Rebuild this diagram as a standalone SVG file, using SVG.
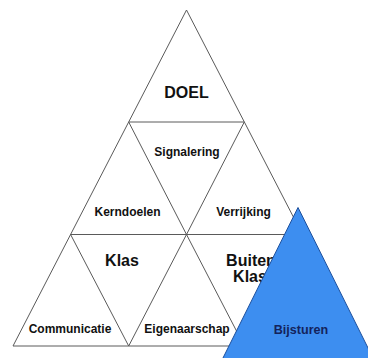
<svg xmlns="http://www.w3.org/2000/svg" width="368" height="358" viewBox="0 0 368 358">
  <style>
    .ln { stroke: #5a5a5a; stroke-width: 1; fill: none; }
    .t { font-family: "Liberation Sans", Arial, sans-serif; font-weight: bold; fill: #111; text-anchor: middle; }
    .s { font-size: 12px; }
    .l { font-size: 16px; }
  </style>
  <rect width="368" height="358" fill="#ffffff"/>
  <g id="connectors">
    <polygon class="ln" points="186.5,10 13,346 360,346"/>
    <line class="ln" x1="128.7" y1="122" x2="244.3" y2="122"/>
    <line class="ln" x1="70.6" y1="234.5" x2="302.4" y2="234.5"/>
    <line class="ln" x1="128.7" y1="122" x2="186.5" y2="234.5"/>
    <line class="ln" x1="244.3" y1="122" x2="186.5" y2="234.5"/>
    <line class="ln" x1="70.6" y1="234.5" x2="128.7" y2="346"/>
    <line class="ln" x1="186.5" y1="234.5" x2="128.7" y2="346"/>
    <line class="ln" x1="186.5" y1="234.5" x2="244.3" y2="346"/>
    <line class="ln" x1="302.4" y1="234.5" x2="244.3" y2="346"/>
  </g>
  <g id="doel"><text class="t l" x="186.5" y="97.5">DOEL</text></g>
  <g id="signalering"><text class="t s" x="187" y="155.5">Signalering</text></g>
  <g id="kerndoelen"><text class="t s" x="127.5" y="215.5">Kerndoelen</text></g>
  <g id="verrijking"><text class="t s" x="243.5" y="215.5">Verrijking</text></g>
  <g id="klas"><text class="t l" x="122" y="265.5">Klas</text></g>
  <g id="buiten-klas"><text class="t l" x="251" y="265.5">Buiten</text><text class="t l" x="250" y="281.5">Klas</text></g>
  <g id="communicatie"><text class="t s" x="70" y="333">Communicatie</text></g>
  <g id="eigenaarschap"><text class="t s" x="187" y="333">Eigenaarschap</text></g>
  <g id="bijsturen">
    <polygon points="298,207.5 212,380 384,380" fill="#3d8ef0" stroke="#1d4f9c" stroke-width="1"/>
    <text class="t" x="301" y="333.5" style="font-size:12.6px;fill:#14235c">Bijsturen</text>
  </g>
</svg>
